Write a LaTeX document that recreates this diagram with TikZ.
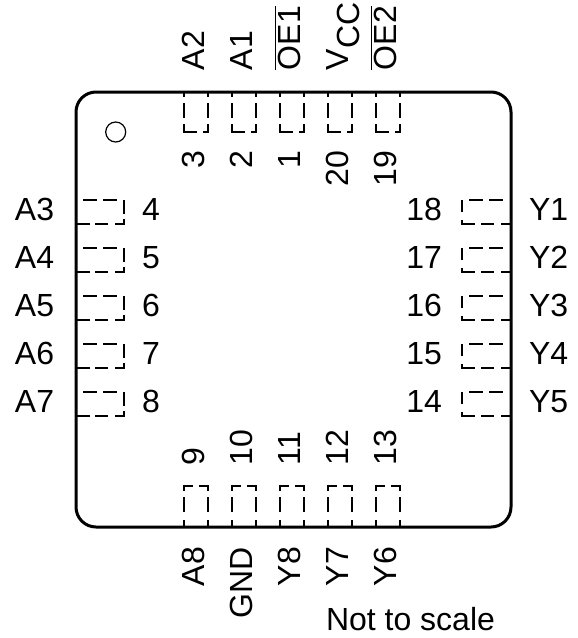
\documentclass[tikz,border=0pt]{standalone}
\usepackage{fontspec}
\setmainfont{Liberation Sans}
\newcommand{\ovl}[1]{\leavevmode\vbox{\hrule height 1.7pt \kern 1.2pt \hbox{#1}}}
\tikzset{
  pinlabel/.style={inner sep=0pt,outer sep=0pt,font=\fontsize{32}{34}\selectfont,text=black},
  outline/.style={line width=3pt,black,rounded corners=20pt},
  padbox/.style={line width=1.3pt,black},
}
\begin{document}
\begin{tikzpicture}[x=1pt,y=-1pt]
\useasboundingbox (0,0) rectangle (578,638);
\draw[outline] (76,92) rectangle (511,527);
\draw[line width=1.2pt] (115.7,132) circle (10);
% top and bottom pads
\foreach \x in {196,244,292,340,388}{
  \draw[padbox] (\x-12,92) -- (\x-12,97) (\x-12,103) -- (\x-12,118)
    (\x-12,124) -- (\x-12,132) -- (\x+1,132);
  \draw[padbox] (\x+12,92) -- (\x+12,97) (\x+12,103) -- (\x+12,118)
    (\x+12,124) -- (\x+12,132) -- (\x+7,132);
  \draw[padbox] (\x-12,491) -- (\x-12,486) -- (\x-3,486)
    (\x-12,497) -- (\x-12,512) (\x-12,520) -- (\x-12,527);
  \draw[padbox] (\x+12,491) -- (\x+12,486) -- (\x+3,486)
    (\x+12,497) -- (\x+12,512) (\x+12,520) -- (\x+12,527);
}
% side pads
\foreach \y in {212,260,308,356,404}{
  \draw[padbox] (83,\y-12) -- (97,\y-12) (103,\y-12) -- (117,\y-12);
  \draw[padbox] (124,\y-12) -- (124,\y+2) (124,\y+7) -- (124,\y+12) -- (115,\y+12)
    (108,\y+12) -- (95,\y+12) (90,\y+12) -- (77,\y+12);
  \draw[padbox] (462,\y-12) -- (462,\y) (462,\y+8) -- (462,\y+12) -- (475,\y+12)
    (481,\y+12) -- (494,\y+12) (501,\y+12) -- (510,\y+12);
  \draw[padbox] (469,\y-12) -- (483,\y-12) (489,\y-12) -- (503,\y-12);
}
% top labels
\node[pinlabel,rotate=90,anchor=base west] (lA2) at (204,70) {A2};
\node[pinlabel,rotate=90,anchor=base west] (lA1) at (252,70) {A1};
\node[pinlabel,rotate=90,anchor=base west] (lOE1) at (300,70) {\ovl{OE1}};
\node[pinlabel,rotate=90,anchor=base west] (lVCC) at (348,70) {V\raisebox{-11pt}{CC}};
\node[pinlabel,rotate=90,anchor=base west] (lOE2) at (396,70) {\ovl{OE2}};
% top numbers
\node[pinlabel,rotate=90,anchor=base east] (n3) at (204,151) {3};
\node[pinlabel,rotate=90,anchor=base east] (n2) at (252,151) {2};
\node[pinlabel,rotate=90,anchor=base east] (n1) at (300,151) {1};
\node[pinlabel,rotate=90,anchor=base east] (n20) at (348,151) {20};
\node[pinlabel,rotate=90,anchor=base east] (n19) at (396,151) {19};
% bottom numbers
\node[pinlabel,rotate=90,anchor=base west] (n9) at (204,465) {9};
\node[pinlabel,rotate=90,anchor=base west] (n10) at (252,465) {10};
\node[pinlabel,rotate=90,anchor=base west] (n11) at (300,465) {11};
\node[pinlabel,rotate=90,anchor=base west] (n12) at (348,465) {12};
\node[pinlabel,rotate=90,anchor=base west] (n13) at (396,465) {13};
% bottom labels
\node[pinlabel,rotate=90,anchor=base east] (lA8) at (204,547) {A8};
\node[pinlabel,rotate=90,anchor=base east] (lGND) at (252,547) {GND};
\node[pinlabel,rotate=90,anchor=base east] (lY8) at (300,547) {Y8};
\node[pinlabel,rotate=90,anchor=base east] (lY7) at (348,547) {Y7};
\node[pinlabel,rotate=90,anchor=base east] (lY6) at (396,547) {Y6};
% left
\foreach \t/\n/\y in {A3/4/220,A4/5/268,A5/6/316,A6/7/364,A7/8/412}{
  \node[pinlabel,anchor=base west] (l\t) at (15,\y) {\t};
  \node[pinlabel,anchor=base west] (n\n) at (142,\y) {\n};
}
% right
\foreach \t/\n/\y in {Y1/18/220,Y2/17/268,Y3/16/316,Y4/15/364,Y5/14/412}{
  \node[pinlabel,anchor=base east] (n\n) at (442,\y) {\n};
  \node[pinlabel,anchor=base west] (l\t) at (529,\y) {\t};
}
\node[pinlabel,anchor=base west] (note) at (326,630) {Not to scale};
\end{tikzpicture}
\end{document}
